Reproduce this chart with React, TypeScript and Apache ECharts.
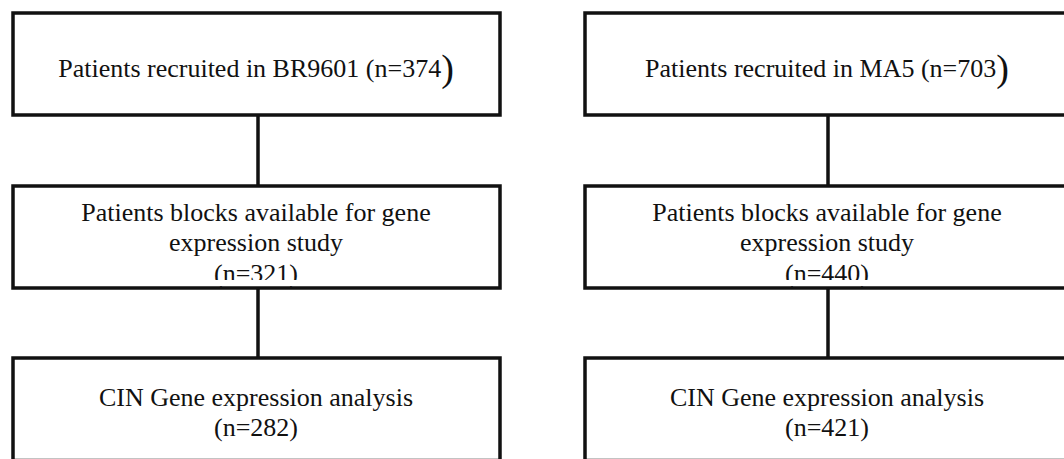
import React, { useEffect, useRef } from "react";
import * as echarts from "echarts";

const studies = ["BR9601", "MA5"];
const recruited = [374, 703];
const available = [321, 440];
const analysed = [282, 421];

const FONT = '"Liberation Serif", "Times New Roman", serif';
const INK = "#111";
const FS = 26;

// layout (pixels)
const COLS = [
  { left: 13, right: 500, cx: 258, tx: 256 },
  { left: 585, right: 1076, cx: 828, tx: 827 },
];
const ROWS = [
  { top: 13, bottom: 115 },
  { top: 186, bottom: 288 },
  { top: 358, bottom: 460.5 },
];
const LW = 3.5;

function buildGraphics() {
  const els: any[] = [];
  COLS.forEach((c, i) => {
    ROWS.forEach((r) => {
      els.push({
        type: "rect",
        z: 1,
        shape: { x: c.left, y: r.top, width: c.right - c.left, height: r.bottom - r.top },
        style: { fill: "#fff", stroke: "none" },
      });
    });
    // connectors
    for (let k = 0; k < ROWS.length - 1; k++) {
      els.push({
        type: "line",
        z: 5,
        shape: { x1: c.cx, y1: ROWS[k].bottom, x2: c.cx, y2: ROWS[k + 1].top },
        style: { stroke: INK, lineWidth: LW },
      });
    }
    // box 1 text
    els.push({
      type: "text",
      z: 3,
      style: {
        x: c.tx,
        y: 68,
        text: `{a|Patients recruited in ${studies[i]} (n=${recruited[i]}}{b|)}`,
        align: "center",
        verticalAlign: "middle",
        fill: INK,
        rich: {
          a: { fontSize: FS, fontFamily: FONT, fill: INK, verticalAlign: "middle" },
          b: { fontSize: 38, fontFamily: FONT, fill: INK, verticalAlign: "middle" },
        },
      },
    });
    // box 2 text
    const lines2 = ["Patients blocks available for gene", "expression study", `(n=${available[i]})`];
    const ys2 = [212, 242, 273];
    lines2.forEach((t, j) => {
      els.push({
        type: "text",
        z: 3,
        style: {
          x: c.tx,
          y: ys2[j],
          text: t,
          align: "center",
          verticalAlign: "middle",
          fill: INK,
          fontSize: FS,
          fontFamily: FONT,
        },
      });
    });
    // cover lower part of the clipped third line
    els.push({
      type: "rect",
      z: 4,
      shape: { x: c.left + 3, y: 280, width: c.right - c.left - 6, height: 6 },
      style: { fill: "#fff", stroke: "none" },
    });
    // box 3 text
    const lines3 = ["CIN Gene expression analysis", `(n=${analysed[i]})`];
    const ys3 = [397, 427];
    lines3.forEach((t, j) => {
      els.push({
        type: "text",
        z: 3,
        style: {
          x: c.tx,
          y: ys3[j],
          text: t,
          align: "center",
          verticalAlign: "middle",
          fill: INK,
          fontSize: FS,
          fontFamily: FONT,
        },
      });
    });
    // borders
    ROWS.forEach((r) => {
      els.push({
        type: "rect",
        z: 6,
        shape: { x: c.left, y: r.top, width: c.right - c.left, height: r.bottom - r.top },
        style: { fill: "none", stroke: INK, lineWidth: LW },
      });
    });
  });
  return els;
}

export default function App() {
  const ref = useRef<HTMLDivElement>(null);
  useEffect(() => {
    if (!ref.current) return;
    const chart = echarts.init(ref.current, undefined, { renderer: "svg" });
    chart.setOption({
      animation: false,
      backgroundColor: "#fff",
      graphic: { elements: buildGraphics() },
    });
    return () => chart.dispose();
  }, []);
  return (
    <div
      ref={ref}
      style={{ position: "fixed", left: 0, top: 0, width: 1064, height: 459, background: "#fff" }}
    />
  );
}
